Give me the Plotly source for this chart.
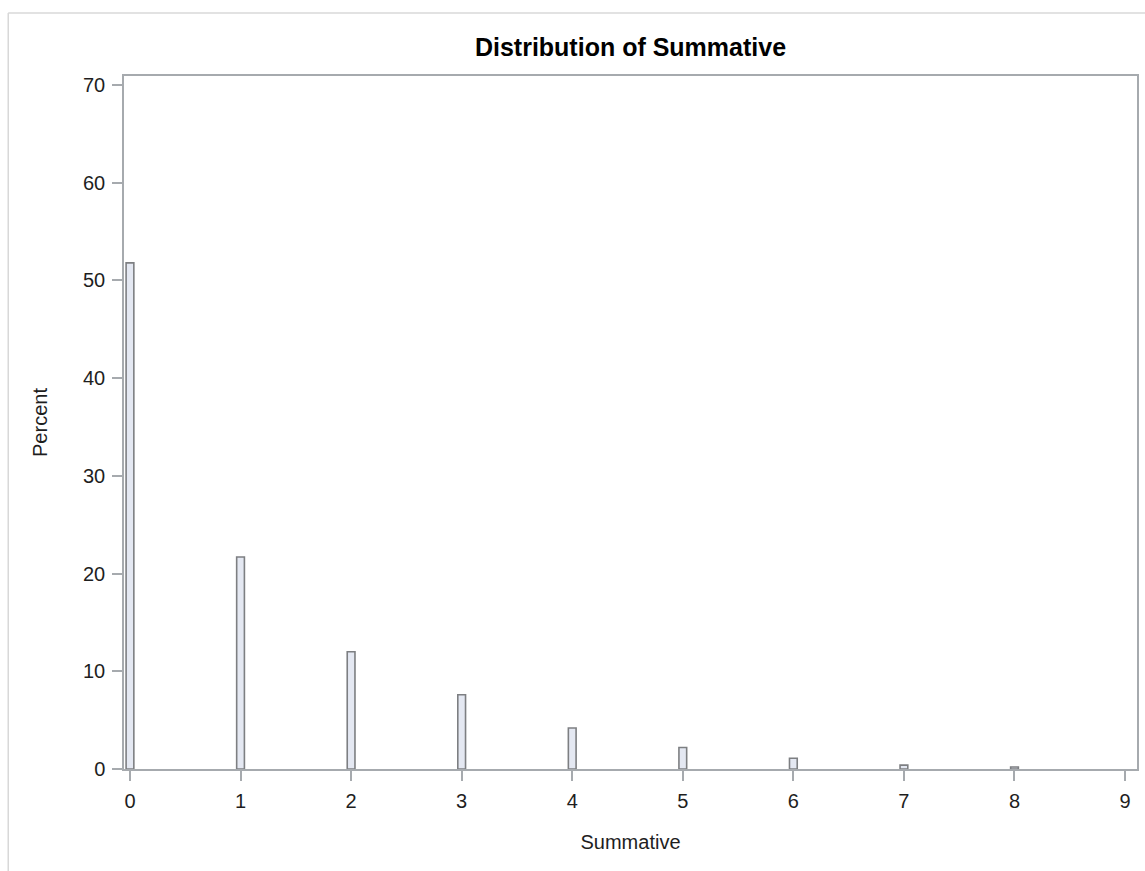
import plotly.graph_objects as go

# Histogram of the Summative score (percent of observations per value)
summative_values = [0, 1, 2, 3, 4, 5, 6, 7, 8]
percent = [51.8, 21.7, 12.0, 7.6, 4.2, 2.2, 1.1, 0.4, 0.2]
x_ticks = [0, 1, 2, 3, 4, 5, 6, 7, 8, 9]
y_ticks = [0, 10, 20, 30, 40, 50, 60, 70]

W, H = 1145, 871
M_L, M_R, M_T, M_B = 124, 6, 76, 102
plot_w = W - M_L - M_R
plot_h = H - M_T - M_B

AXIS_COLOR = "#A6AAAE"
FONT = "Liberation Sans, Arial, sans-serif"

fig = go.Figure(
    go.Bar(
        x=summative_values,
        y=percent,
        width=0.07,
        marker=dict(color="#E4E8F2", line=dict(color="#7D7F82", width=1.6)),
        hoverinfo="x+y",
    )
)

# outer light frame around the graph region (top and left edges)
fx = (8 - M_L) / plot_w
fy_top = (H - M_B - 13) / plot_h
fy_bot = -(M_B + 2) / plot_h
fig.add_shape(type="line", xref="paper", yref="paper", x0=fx, x1=(W - M_L + 5) / plot_w,
              y0=fy_top, y1=fy_top, line=dict(color="#D8D8D8", width=1.5))
fig.add_shape(type="line", xref="paper", yref="paper", x0=fx, x1=fx,
              y0=fy_bot, y1=fy_top, line=dict(color="#D8D8D8", width=1.5))

fig.update_layout(
    width=W,
    height=H,
    margin=dict(l=M_L, r=M_R, t=M_T, b=M_B),
    paper_bgcolor="white",
    plot_bgcolor="white",
    showlegend=False,
    font=dict(family=FONT, color="#1E1E1E", size=20),
    title=dict(
        text="<b>Distribution of Summative</b>",
        x=0.5, xanchor="center", xref="paper",
        y=1 - 47 / H, yanchor="middle",
        font=dict(family=FONT, size=25, color="#000000"),
    ),
    xaxis=dict(
        range=[-0.054, 9.108],
        tickmode="array", tickvals=x_ticks,
        ticks="outside", ticklen=10, tickwidth=1.5, tickcolor=AXIS_COLOR,
        ticklabelstandoff=3,
        showline=True, linecolor=AXIS_COLOR, linewidth=1.5, mirror=True,
        showgrid=False, zeroline=False,
        tickfont=dict(size=20),
        title=dict(text="Summative", font=dict(size=20), standoff=24),
    ),
    yaxis=dict(
        range=[0, 70.92],
        tickmode="array", tickvals=y_ticks,
        ticks="outside", ticklen=10, tickwidth=1.5, tickcolor=AXIS_COLOR,
        ticklabelstandoff=3,
        showline=True, linecolor=AXIS_COLOR, linewidth=1.5, mirror=True,
        showgrid=False, zeroline=False,
        tickfont=dict(size=20),
        title=dict(text="Percent", font=dict(size=20), standoff=30),
    ),
)

fig.write_html("out.html")
